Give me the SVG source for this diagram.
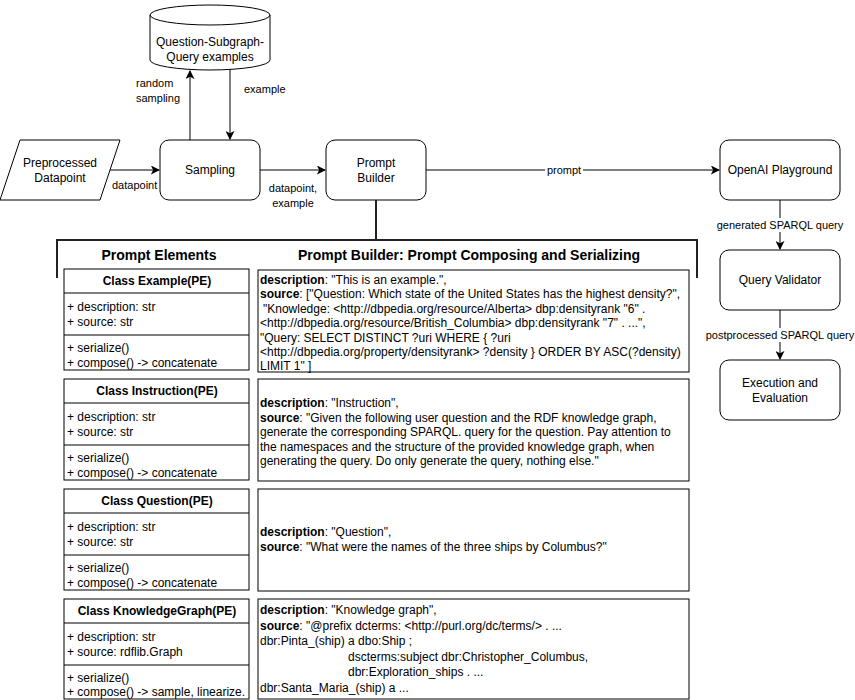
<svg xmlns="http://www.w3.org/2000/svg" width="855" height="700" viewBox="0 0 855 700">
<defs>
<marker id="arr" viewBox="0 0 10 10" refX="9" refY="5" markerWidth="9" markerHeight="9" markerUnits="userSpaceOnUse" orient="auto">
<path d="M0,0 L10,5 L0,10 L2.5,5 Z" fill="#000"/>
</marker>
</defs>
<style>
text{font-family:"Liberation Sans",Arial,sans-serif;fill:#000}
.n{font-size:12px;text-anchor:middle}
.e{font-size:11px}
.m{text-anchor:middle}
.h{font-size:14px;font-weight:bold;text-anchor:middle}
.cb{font-size:12px;font-weight:bold;text-anchor:middle}
.t{font-size:12px}
.b{font-weight:bold}
.box{fill:#fff;stroke:#000;stroke-width:1}
.ln{fill:none;stroke:#000;stroke-width:1}
.br{fill:none;stroke:#222;stroke-width:2}
.bg{fill:#fff}
</style>
<rect width="855" height="700" fill="#fff"/>

<g id="connectors">
<line class="ln" x1="110" y1="170" x2="159" y2="170" marker-end="url(#arr)"/>
<line class="ln" x1="190" y1="140" x2="190" y2="71" marker-end="url(#arr)"/>
<line class="ln" x1="230" y1="69" x2="230" y2="139" marker-end="url(#arr)"/>
<line class="ln" x1="260" y1="170" x2="325" y2="170" marker-end="url(#arr)"/>
<line class="ln" x1="426" y1="170" x2="719" y2="170" marker-end="url(#arr)"/>
<line class="ln" x1="780" y1="200" x2="780" y2="249" marker-end="url(#arr)"/>
<line class="ln" x1="780" y1="310" x2="780" y2="359" marker-end="url(#arr)"/>
<text class="e" x="112" y="189">datapoint</text>
<text class="e" x="136" y="87">random</text>
<text class="e" x="136" y="102">sampling</text>
<text class="e" x="244" y="93">example</text>
<text class="e m" x="293" y="192">datapoint,</text>
<text class="e m" x="293" y="207">example</text>
<rect class="bg" x="545" y="163" width="38" height="14"/>
<text class="e m" x="564" y="174">prompt</text>
<rect class="bg" x="717" y="218" width="126" height="14"/>
<text class="e m" x="780" y="229">generated SPARQL query</text>
<rect class="bg" x="707" y="328" width="147" height="14"/>
<text class="e m" x="780" y="339">postprocessed SPARQL query</text>
</g>

<g id="examples-db">
<path class="box" d="M150,15 L150,60 A60,10 0 0 0 270,60 L270,15 A60,10 0 0 0 150,15 Z"/>
<path class="ln" d="M150,15 A60,10 0 0 0 270,15"/>
<text class="n" x="210" y="46">Question-Subgraph-</text>
<text class="n" x="210" y="61">Query examples</text>
</g>

<g id="datapoint">
<polygon class="box" points="20,140 120,140 100,200 0,200"/>
<text class="n" x="60" y="167">Preprocessed</text>
<text class="n" x="60" y="182">Datapoint</text>
</g>

<g id="sampling">
<rect class="box" x="160" y="140" width="100" height="60" rx="9"/>
<text class="n" x="210" y="174">Sampling</text>
</g>

<g id="prompt-builder">
<rect class="box" x="326" y="140" width="100" height="60" rx="9"/>
<text class="n" x="376" y="167">Prompt</text>
<text class="n" x="376" y="182">Builder</text>
</g>

<g id="openai">
<rect class="box" x="720" y="140" width="120" height="60" rx="9"/>
<text class="n" x="780" y="174">OpenAI Playground</text>
</g>

<g id="validator">
<rect class="box" x="720" y="250" width="120" height="60" rx="9"/>
<text class="n" x="780" y="284">Query Validator</text>
</g>

<g id="execution">
<rect class="box" x="720" y="360" width="120" height="60" rx="9"/>
<text class="n" x="780" y="387">Execution and</text>
<text class="n" x="780" y="402">Evaluation</text>
</g>

<g id="bracket">
<path class="br" d="M376,200 L376,240"/>
<path class="br" d="M57,278 L57,240 L697,240 L697,278"/>
<text class="h" x="159" y="260">Prompt Elements</text>
<text class="h" x="469" y="260">Prompt Builder: Prompt Composing and Serializing</text>
</g>

<g id="class-example">
<rect class="box" x="64" y="269" width="185" height="101"/>
<line class="ln" x1="64" y1="293" x2="249" y2="293"/>
<line class="ln" x1="64" y1="335" x2="249" y2="335"/>
<text class="cb" x="157" y="285">Class Example(PE)</text>
<text class="t" x="67" y="311">+ description: str</text>
<text class="t" x="67" y="326">+ source: str</text>
<text class="t" x="67" y="352">+ serialize()</text>
<text class="t" x="67" y="367">+ compose() -&gt; concatenate</text>
</g>

<g id="class-instruction">
<rect class="box" x="64" y="379" width="185" height="101"/>
<line class="ln" x1="64" y1="403" x2="249" y2="403"/>
<line class="ln" x1="64" y1="445" x2="249" y2="445"/>
<text class="cb" x="157" y="395">Class Instruction(PE)</text>
<text class="t" x="67" y="421">+ description: str</text>
<text class="t" x="67" y="436">+ source: str</text>
<text class="t" x="67" y="462">+ serialize()</text>
<text class="t" x="67" y="477">+ compose() -&gt; concatenate</text>
</g>

<g id="class-question">
<rect class="box" x="64" y="489" width="185" height="101"/>
<line class="ln" x1="64" y1="513" x2="249" y2="513"/>
<line class="ln" x1="64" y1="555" x2="249" y2="555"/>
<text class="cb" x="157" y="505">Class Question(PE)</text>
<text class="t" x="67" y="531">+ description: str</text>
<text class="t" x="67" y="546">+ source: str</text>
<text class="t" x="67" y="572">+ serialize()</text>
<text class="t" x="67" y="587">+ compose() -&gt; concatenate</text>
</g>

<g id="class-kg">
<rect class="box" x="64" y="599" width="185" height="100"/>
<line class="ln" x1="64" y1="623" x2="249" y2="623"/>
<line class="ln" x1="64" y1="665" x2="249" y2="665"/>
<text class="cb" x="157" y="615">Class KnowledgeGraph(PE)</text>
<text class="t" x="67" y="641">+ description: str</text>
<text class="t" x="67" y="656">+ source: rdflib.Graph</text>
<text class="t" x="67" y="682">+ serialize()</text>
<text class="t" x="67" y="696">+ compose() -&gt; sample, linearize.</text>
</g>

<g id="text-example">
<rect class="box" x="258" y="270" width="431" height="102"/>
<text class="t" x="260" y="284"><tspan class="b">description</tspan>: "This is an example.",</text>
<text class="t" x="260" y="298.4"><tspan class="b">source</tspan>: ["Question: Which state of the United States has the highest density?",</text>
<text class="t" x="263" y="312.8">"Knowledge: &lt;http://dbpedia.org/resource/Alberta&gt; dbp:densityrank "6" .</text>
<text class="t" x="260" y="327.2">&lt;http://dbpedia.org/resource/British_Columbia&gt; dbp:densityrank "7" . ...",</text>
<text class="t" x="260" y="341.6">"Query: SELECT DISTINCT ?uri WHERE { ?uri</text>
<text class="t" x="260" y="356">&lt;http://dbpedia.org/property/densityrank&gt; ?density } ORDER BY ASC(?density)</text>
<text class="t" x="260" y="370.4">LIMIT 1" ]</text>
</g>

<g id="text-instruction">
<rect class="box" x="258" y="379" width="431" height="102"/>
<text class="t" x="260" y="407"><tspan class="b">description</tspan>: "Instruction",</text>
<text class="t" x="260" y="421.6"><tspan class="b">source</tspan>: "Given the following user question and the RDF knowledge graph,</text>
<text class="t" x="260" y="436.2">generate the corresponding SPARQL. query for the question. Pay attention to</text>
<text class="t" x="260" y="450.8">the namespaces and the structure of the provided knowledge graph, when</text>
<text class="t" x="260" y="465.4">generating the query. Do only generate the query, nothing else."</text>
</g>

<g id="text-question">
<rect class="box" x="258" y="489" width="431" height="102"/>
<text class="t" x="260" y="536"><tspan class="b">description</tspan>: "Question",</text>
<text class="t" x="260" y="551"><tspan class="b">source</tspan>: "What were the names of the three ships by Columbus?"</text>
</g>

<g id="text-kg">
<rect class="box" x="258" y="599" width="431" height="100"/>
<text class="t" x="260" y="614"><tspan class="b">description</tspan>: "Knowledge graph",</text>
<text class="t" x="260" y="629.5"><tspan class="b">source</tspan>: "@prefix dcterms: &lt;http://purl.org/dc/terms/&gt; . ...</text>
<text class="t" x="260" y="645">dbr:Pinta_(ship) a dbo:Ship ;</text>
<text class="t" x="348" y="660.5">dscterms:subject dbr:Christopher_Columbus,</text>
<text class="t" x="348" y="676">dbr:Exploration_ships . ...</text>
<text class="t" x="260" y="691.5">dbr:Santa_Maria_(ship) a ...</text>
</g>
</svg>
